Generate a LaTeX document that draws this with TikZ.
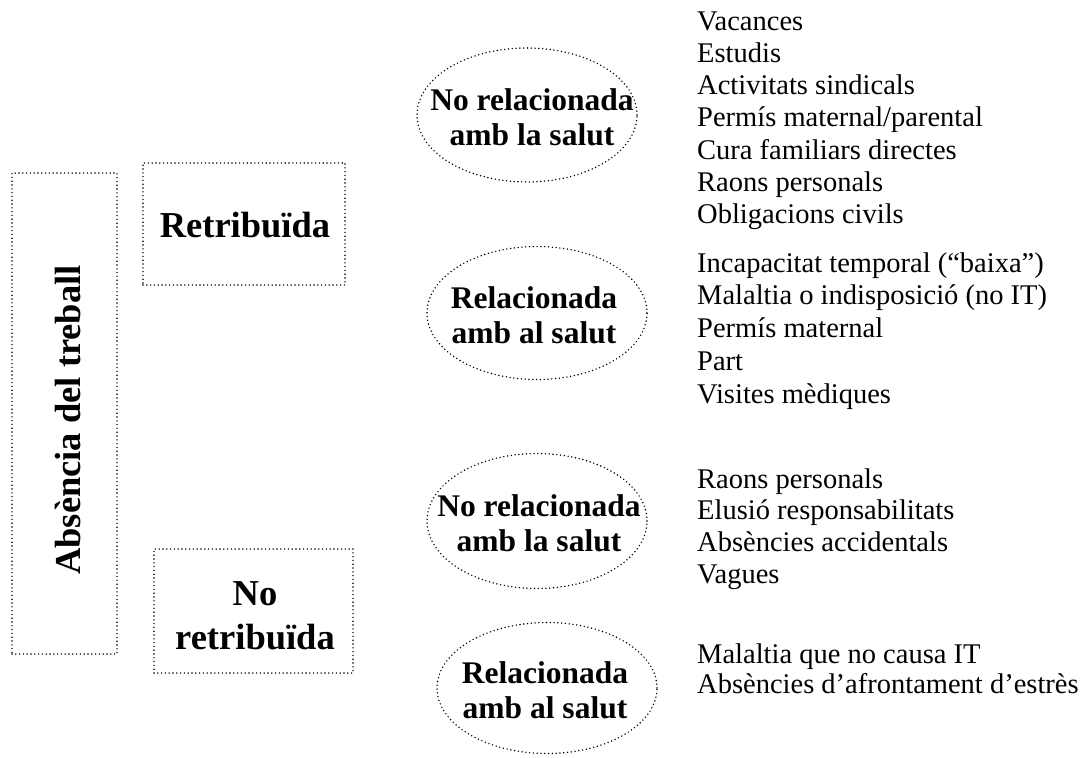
\documentclass[tikz,border=0pt]{standalone}
\usepackage{fontspec}
\setmainfont{Liberation Serif}
\usetikzlibrary{shapes.geometric}
\begin{document}
\begin{tikzpicture}[x=1pt,y=-1pt,
  dotline/.style={draw=black, line width=1.6pt, dash pattern=on 0pt off 3.8pt, line cap=round},
  boxnode/.style={dotline, rectangle, inner sep=0pt},
  ellnode/.style={dotline, ellipse, inner sep=0pt, minimum width=220pt},
  bigbold/.style={font=\fontsize{36.5}{44}\selectfont\bfseries, inner sep=0pt, align=center},
  ellbold/.style={font=\fontsize{31.5}{35}\selectfont\bfseries, inner sep=0pt, align=center},
  item/.style={font=\fontsize{28.5}{32.5}\selectfont, inner sep=0pt, anchor=base west}
]
\useasboundingbox (0,0) rectangle (1088,758);

% left boxes
\node[boxnode, minimum width=105pt, minimum height=481pt] (outer) at (64.5,413.5) {};
\node[bigbold, rotate=90] (abs) at (67.5,420) {Absència del treball};

\node[boxnode, minimum width=202pt, minimum height=122pt] (ret) at (244,224) {};
\node[bigbold] (rettxt) at (245,225) {Retribuïda};

\node[boxnode, minimum width=199pt, minimum height=124pt] (noret) at (253.5,611) {};
\node[bigbold] (noretttxt) at (255,616) {No\\retribuïda};

% ellipses
\node[ellnode, minimum height=134pt] (e1) at (527,115) {};
\node[ellbold] (e1t) at (532,117) {No relacionada\\amb la salut};
\node[ellnode, minimum height=133pt] (e2) at (537,313) {};
\node[ellbold] (e2t) at (534,315) {Relacionada\\amb al salut};
\node[ellnode, minimum height=135pt] (e3) at (537,521) {};
\node[ellbold] (e3t) at (539,523) {No relacionada\\amb la salut};
\node[ellnode, minimum height=131pt] (e4) at (547,688) {};
\node[ellbold] (e4t) at (545,690) {Relacionada\\amb al salut};

% lists
\foreach \t [count=\i] in {Vacances, Estudis, Activitats sindicals, Permís maternal/parental, Cura familiars directes, Raons personals, Obligacions civils}
  \node[item] (la\i) at (697,{30+32.3*(\i-1)}) {\t};
\foreach \t [count=\i] in {{Incapacitat temporal (``baixa'')}, {Malaltia o indisposició (no IT)}, Permís maternal, Part, Visites mèdiques}
  \node[item] (lb\i) at (697,{272+32.8*(\i-1)}) {\t};
\foreach \t [count=\i] in {Raons personals, Elusió responsabilitats, Absències accidentals, Vagues}
  \node[item] (lc\i) at (697,{488+31.8*(\i-1)}) {\t};
\foreach \t [count=\i] in {Malaltia que no causa IT, Absències d'afrontament d'estrès}
  \node[item] (ld\i) at (697,{663+30.5*(\i-1)}) {\t};
\end{tikzpicture}
\end{document}
